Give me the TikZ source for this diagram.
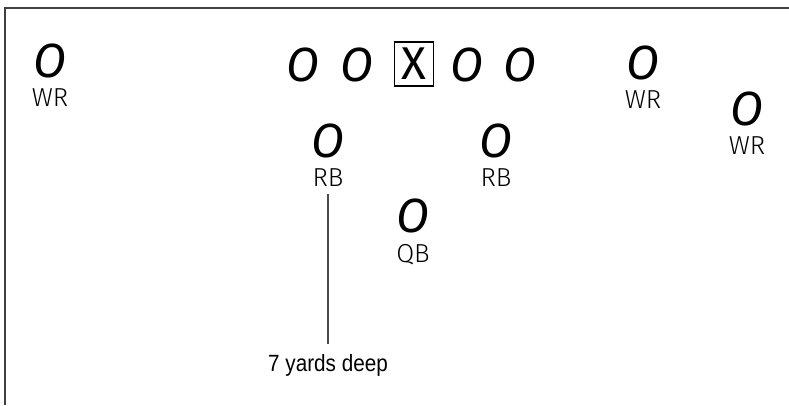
\documentclass[tikz,border=0pt]{standalone}
\usepackage{fontspec}
\usetikzlibrary{positioning}
\newfontfamily\playerfont{Fira Sans}
\newfontfamily\posfont{Fira Sans Light}
\newfontfamily\notefont[FakeStretch=0.88]{Liberation Sans}

\begin{document}
\begin{tikzpicture}[x=1pt, y=-1pt,
	player/.style={inner sep=0pt, anchor=base, font=\playerfont\itshape\fontsize{48}{48}\selectfont},
	center/.style={draw, line width=1.2pt, inner sep=0pt, minimum width=39pt, minimum height=44pt, font=\playerfont\fontsize{46}{46}\selectfont},
	posn/.style={inner sep=0pt, font=\posfont\fontsize{26}{26}\selectfont},
	note/.style={inner sep=0pt, anchor=base, font=\notefont\fontsize{23.5}{23.5}\selectfont},
	frame/.style={line width=1.5pt, color=black!75},
	leader/.style={line width=1.2pt, color=black!70}]
	\useasboundingbox (0,0) rectangle (789,405);
	\draw[frame] (5,405) -- (5,8) -- (789,8);
	\node[player] (wra) at (50,77) {O};
	\node[posn, below=11pt of wra] (wral) {WR};
	\node[player] (lta) at (303,81) {O};
	\node[player] (lga) at (357,81) {O};
	\node[center] (c) at (414,64) {X};
	\node[player] (lgb) at (467,81) {O};
	\node[player] (ltb) at (520,81) {O};
	\node[player] (wrb) at (643,79) {O};
	\node[posn, below=11pt of wrb] (wrbl) {WR};
	\node[player] (wrc) at (747,125) {O};
	\node[posn, below=11pt of wrc] (wrcl) {WR};
	\node[player] (rba) at (328,157) {O};
	\node[posn, below=11pt of rba] (rbal) {RB};
	\node[player] (rbb) at (496,157) {O};
	\node[posn, below=11pt of rbb] (rbbl) {RB};
	\node[player] (qb) at (413,232) {O};
	\node[posn, below=11pt of qb] (qbl) {QB};
	\node[note] (depth) at (328,371) {7 yards deep};
	\draw[leader, shorten <=7pt, shorten >=10pt] (rbal.south) -- (rbal.south |- depth.north);
\end{tikzpicture}
\end{document}
